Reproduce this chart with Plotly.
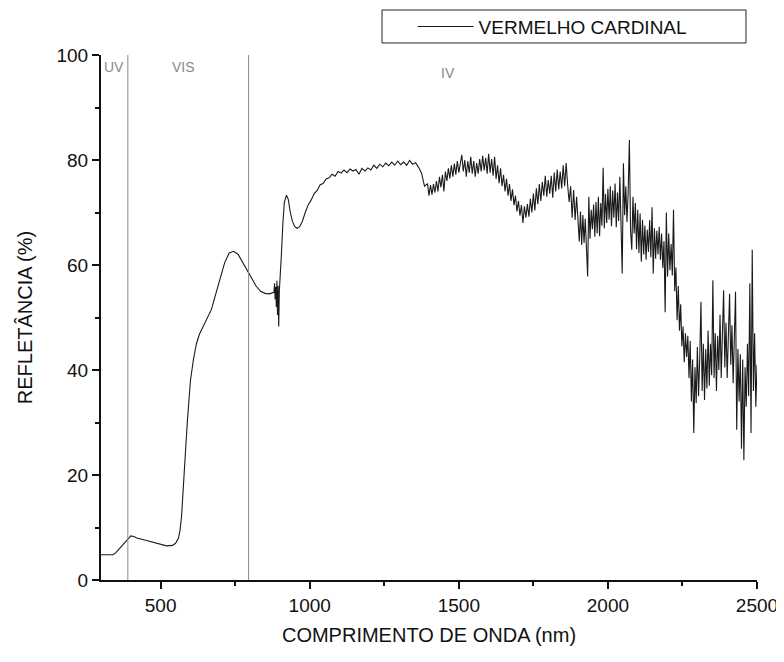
import plotly.graph_objects as go

# ---- data ----
wl_a = [300, 310, 320, 330, 340, 350, 360, 370, 380, 390, 400, 410, 420, 440, 460, 480,
        500, 520, 540, 550, 560, 565, 570, 575, 580, 585, 590, 595, 600, 610, 620, 630,
        640, 655, 670, 685, 700, 715, 730, 745, 760, 775, 790, 805, 820, 835, 850, 865, 880]
r_a = [4.8, 4.8, 4.7, 4.7, 4.8, 5.2, 5.8, 6.5, 7.2, 7.8, 8.4, 8.3, 8.0, 7.7, 7.4, 7.0,
       6.7, 6.5, 6.6, 7.0, 8.0, 9.5, 12.0, 16.0, 21.0, 26.0, 30.5, 34.5, 38.0, 42.0, 45.0, 46.8,
       48.0, 49.5, 51.5, 54.5, 57.5, 60.5, 62.3, 62.6, 62.0, 60.5, 59.0, 57.5, 56.0, 55.0, 54.6, 54.5, 54.8]

wl_b = [882, 884, 886, 888, 890, 892, 894, 896, 898, 900, 905, 910, 915, 922, 928, 935,
        942, 950, 958, 966, 975, 985, 995]
r_b = [56.5, 53.5, 55.8, 52.0, 57.0, 50.5, 56.0, 48.3, 55.0, 56.5, 62.0, 68.0, 72.0, 73.3, 72.5, 70.0,
       68.3, 67.3, 67.0, 67.3, 68.3, 70.0, 71.5]

wl_c = [1005, 1015, 1025, 1035, 1045, 1055, 1065, 1075, 1085, 1095, 1105, 1115, 1125, 1135, 1145,
        1155, 1165, 1175, 1185, 1195, 1205, 1215, 1225, 1235, 1245, 1255, 1265, 1275, 1285, 1295,
        1305, 1315, 1325, 1335, 1345, 1355, 1365, 1375, 1385, 1395,
        1400, 1405, 1410, 1415, 1420, 1425, 1430, 1435, 1440, 1445,
        1450, 1455, 1460, 1465, 1470, 1475, 1480, 1485, 1490, 1495,
        1500, 1505, 1510, 1515, 1520, 1525, 1530, 1535, 1540, 1545,
        1550, 1555, 1560, 1565, 1570, 1575, 1580, 1585, 1590, 1595,
        1600, 1605, 1610, 1615, 1620, 1625, 1630, 1635, 1640, 1645,
        1650, 1655, 1660, 1665, 1670, 1675, 1680, 1685, 1690, 1695,
        1700, 1705, 1710, 1715, 1720, 1725, 1730, 1735, 1740, 1745,
        1750, 1755, 1760, 1765, 1770, 1775, 1780, 1785, 1790, 1795,
        1800, 1805, 1810, 1815, 1820, 1825, 1830, 1835, 1840, 1845,
        1850, 1855, 1860, 1865, 1870, 1875, 1880, 1885, 1890, 1895,
        1900]
r_c = [72.4, 73.6, 74.2, 75.3, 75.5, 76.4, 76.6, 77.3, 76.9, 77.8, 77.5, 78.1, 77.6, 78.3, 77.9,
       78.2, 77.3, 78.4, 77.9, 78.5, 78.1, 79.0, 78.4, 79.2, 78.7, 79.4, 78.9, 79.6, 79.0, 79.8,
       79.1, 79.6, 79.0, 79.9, 79.2, 79.5, 78.6, 77.5, 75.0, 75.5,
       73.2, 75.2, 73.4, 75.4, 73.8, 76.0, 74.0, 76.8, 74.8, 77.2,
       74.0, 77.8, 76.0, 78.4, 76.5, 79.0, 76.8, 79.3, 77.2, 79.8,
       77.6, 79.8, 81.0, 77.8, 80.0, 76.8, 79.8, 77.6, 80.6, 77.4,
       79.8, 76.8, 79.4, 77.4, 80.2, 77.8, 80.8, 78.0, 80.4, 77.4,
       81.2, 77.6, 80.2, 77.0, 80.6, 76.4, 79.0, 75.6, 78.4, 75.0,
       77.2, 74.0, 76.4, 73.2, 75.4, 72.2, 74.4, 71.4, 73.2, 70.2,
       72.2, 69.4, 71.4, 68.0, 71.2, 69.0, 71.6, 69.2, 72.6, 70.0,
       73.6, 70.4, 74.6, 71.6, 75.4, 72.2, 75.8, 73.2, 77.0, 73.0,
       76.2, 73.6, 77.0, 72.8, 77.6, 74.0, 78.2, 74.4, 77.8, 74.6,
       79.0, 75.0, 79.4, 75.2, 72.0, 75.0, 69.0, 74.3, 68.6, 73.0,
       66.5]

wl_d = [1904, 1908, 1912, 1916, 1920, 1924, 1928, 1932, 1936, 1940, 1944, 1948, 1952, 1956, 1960,
        1964, 1968, 1972, 1976, 1980, 1984, 1988, 1992, 1996, 2000, 2004, 2008, 2012, 2016, 2020,
        2024, 2028, 2032, 2036, 2040, 2044, 2048, 2052, 2056, 2060, 2064, 2068, 2072, 2076, 2080,
        2084, 2088, 2092, 2096, 2100, 2104, 2108, 2112, 2116, 2120, 2124, 2128, 2132, 2136, 2140,
        2144, 2148, 2152, 2156, 2160, 2164, 2168, 2172, 2176, 2180, 2184, 2188, 2192, 2196, 2200,
        2204, 2208, 2212, 2216, 2220, 2224, 2228, 2232, 2236, 2240, 2244, 2248]
r_d = [64.5, 70.2, 63.8, 69.5, 64.2, 68.8, 62.5, 57.8, 73.0, 65.0, 70.5, 66.8, 71.5, 65.4, 72.0,
       66.0, 73.0, 65.5, 71.8, 67.5, 78.5, 67.0, 73.5, 68.0, 74.5, 68.6, 75.0, 67.4, 74.2, 69.0,
       75.5, 67.2, 73.8, 68.4, 76.8, 66.0, 58.4, 79.4, 69.5, 75.0, 68.2, 74.0, 83.8, 66.5, 62.9,
       73.0, 66.0, 71.8, 63.0, 70.5, 62.3, 69.8, 60.6, 68.6, 62.0, 67.5, 61.0, 66.7, 62.5, 68.5,
       61.5, 71.0, 58.4, 67.0, 61.2, 66.5, 62.0, 67.3, 61.0, 66.0, 59.5, 64.5, 51.0, 70.0, 57.8,
       66.0, 59.0, 64.0, 58.0, 70.5, 55.0, 59.5, 49.5, 56.0, 47.5, 52.5, 44.5]

wl_e = [2252, 2256, 2260, 2264, 2268, 2272, 2276, 2280, 2284, 2288, 2292, 2296, 2300, 2304, 2308,
        2312, 2316, 2320, 2324, 2328, 2332, 2336, 2340, 2344, 2348, 2352, 2356, 2360, 2364, 2368,
        2372, 2376, 2380, 2384, 2388, 2392, 2396, 2400, 2404, 2408, 2412, 2416, 2420, 2424, 2428,
        2432, 2436, 2440, 2444, 2448, 2452, 2456, 2460, 2464, 2468, 2472, 2476, 2480, 2484, 2488,
        2492, 2496, 2500]
r_e = [48.3, 41.5, 47.0, 42.5, 46.5, 38.5, 45.5, 34.0, 42.0, 28.0, 40.5, 33.7, 44.4, 35.0, 42.5,
       53.0, 36.0, 45.0, 34.3, 44.0, 36.5, 47.5, 37.0, 45.0, 39.0, 57.1, 38.5, 47.0, 36.0, 46.5,
       40.0, 50.5, 38.5, 48.0, 55.2, 40.5, 49.0, 38.5, 47.5, 54.5, 41.0, 48.5, 37.5, 46.0, 54.9,
       28.6, 44.0, 34.0, 43.0, 25.0, 42.0, 22.8, 40.5, 33.0, 45.0, 35.0, 56.5, 28.0, 62.9, 36.0,
       47.0, 33.0, 41.0]

wavelength = wl_a + wl_b + wl_c + wl_d + wl_e
reflectance = r_a + r_b + r_c + r_d + r_e

region_bounds = [390, 795]
region_labels = ["UV", "VIS", "IV"]
region_label_x = [345, 575, 1464]
region_label_y = [97.7, 97.7, 96.6]

x_ticks = [500, 1000, 1500, 2000, 2500]
y_ticks = [0, 20, 40, 60, 80, 100]

FONT = "Liberation Sans, Arial, sans-serif"

fig = go.Figure()
fig.add_trace(go.Scatter(
    x=wavelength, y=reflectance, mode="lines", name="VERMELHO CARDINAL",
    line=dict(color="#1a1a1a", width=1.1),
))

for xb in region_bounds:
    fig.add_shape(type="line", xref="x", yref="y", x0=xb, x1=xb, y0=0, y1=100,
                  line=dict(color="#8a8a8a", width=1))

for txt, lx, ly in zip(region_labels, region_label_x, region_label_y):
    fig.add_annotation(x=lx, y=ly, xref="x", yref="y", text=txt, showarrow=False,
                       font=dict(family=FONT, size=14, color="#8a8a8a"))

# legend frame
fig.add_shape(type="rect", xref="paper", yref="paper",
              x0=0.4284, x1=0.9832, y0=1.0229, y1=1.0857,
              line=dict(color="#222", width=1), fillcolor="rgba(0,0,0,0)")

fig.update_layout(
    width=784, height=662,
    margin=dict(l=93, r=35, t=47, b=90, autoexpand=False),
    paper_bgcolor="white", plot_bgcolor="white",
    font=dict(family=FONT, color="#111"),
    showlegend=True,
    legend=dict(x=0.475, y=1.054, xanchor="left", yanchor="middle",
                bgcolor="rgba(0,0,0,0)", borderwidth=0,
                font=dict(family=FONT, size=19, color="#111"),
                itemwidth=56),
    xaxis=dict(range=[300, 2500], tickvals=x_ticks, ticktext=[str(v) for v in x_ticks],
               automargin=False,
               showgrid=False, zeroline=False, showline=True, linecolor="#111", linewidth=2,
               ticks="outside", ticklen=7, tickwidth=1.5, tickcolor="#111",
               tickfont=dict(family=FONT, size=19, color="#111"),
               minor=dict(dtick=250, tick0=0, ticks="outside", ticklen=4, tickcolor="#111", showgrid=False),
               title=dict(text="COMPRIMENTO DE ONDA (nm)", font=dict(family=FONT, size=20, color="#111"),
                          standoff=13)),
    yaxis=dict(range=[0, 100], tickvals=y_ticks, ticktext=[str(v) for v in y_ticks],
               automargin=False,
               showgrid=False, zeroline=False, showline=True, linecolor="#111", linewidth=2,
               ticks="outside", ticklen=7, tickwidth=1.5, tickcolor="#111",
               tickfont=dict(family=FONT, size=19, color="#111"),
               minor=dict(dtick=10, tick0=0, ticks="outside", ticklen=4, tickcolor="#111", showgrid=False),
               title=dict(text="REFLETÂNCIA (%)", font=dict(family=FONT, size=20, color="#111"),
                          standoff=18)),
)

fig.write_html("out.html")
